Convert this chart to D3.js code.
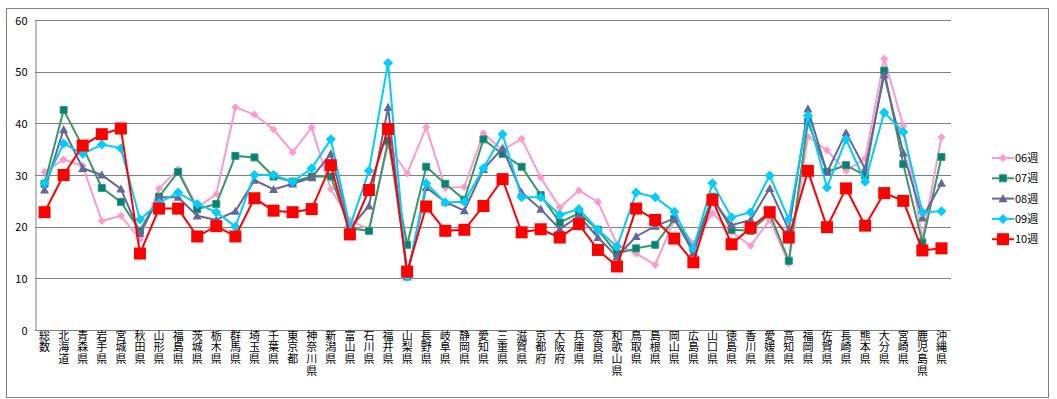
<!DOCTYPE html>
<html>
<head>
<meta charset="utf-8">
<script src="https://d3js.org/d3.v7.min.js"></script>
<style>
  body { margin: 0; background: #fff; }
  svg text { font-family: "MS PGothic", "Noto Sans CJK JP", sans-serif; fill: #000; }
</style>
</head>
<body>
<div id="chart"></div>
<script>
// categories (prefectures)
const prefs = ["総数","北海道","青森県","岩手県","宮城県","秋田県","山形県","福島県","茨城県","栃木県",
  "群馬県","埼玉県","千葉県","東京都","神奈川県","新潟県","富山県","石川県","福井県","山梨県",
  "長野県","岐阜県","静岡県","愛知県","三重県","滋賀県","京都府","大阪府","兵庫県","奈良県",
  "和歌山県","鳥取県","島根県","岡山県","広島県","山口県","徳島県","香川県","愛媛県","高知県",
  "福岡県","佐賀県","長崎県","熊本県","大分県","宮崎県","鹿児島県","沖縄県"];

const week06 = [30.6,33.0,31.8,21.1,22.1,17.6,27.4,31.1,23.7,26.3,
  43.1,41.7,38.8,34.4,39.2,27.3,21.2,19.5,35.8,30.3,
  39.2,27.5,27.7,38.1,34.8,37.0,29.5,23.7,27.0,24.8,
  16.5,14.8,12.6,21.3,16.8,22.6,19.0,16.3,21.3,12.9,
  37.4,34.8,30.8,33.2,52.5,39.5,17.7,37.3];
const week07 = [28.3,42.6,35.5,27.5,24.8,19.2,25.8,30.6,23.4,24.4,
  33.7,33.4,29.7,28.7,29.7,29.7,19.7,19.2,36.6,16.5,
  31.6,28.3,25.2,36.9,34.1,31.6,26.1,20.8,22.6,19.4,
  14.8,15.8,16.5,21.5,15.8,25.8,19.4,19.2,22.5,13.4,
  40.3,30.6,31.9,29.9,50.2,32.1,16.9,33.5];
const week08 = [27.1,38.8,31.3,30.0,27.3,18.7,25.7,25.7,22.1,21.3,
  23.0,29.0,27.2,28.3,29.5,34.1,19.7,24.0,43.1,10.3,
  27.6,24.8,23.1,31.1,35.2,26.6,23.4,19.5,22.1,17.9,
  14.2,18.1,20.1,21.6,15.0,25.2,20.3,21.3,27.4,19.4,
  42.8,30.5,38.2,31.2,49.4,34.3,21.7,28.4];
const week09 = [28.4,36.1,34.1,35.9,35.2,21.4,24.6,26.6,24.4,22.8,
  20.0,30.0,30.0,28.7,31.3,36.9,20.0,30.8,51.7,10.3,
  28.4,24.7,24.8,31.3,37.9,25.7,25.7,22.3,23.4,19.4,
  16.1,26.6,25.7,22.9,15.8,28.4,21.8,22.8,29.9,21.4,
  41.5,27.6,36.9,28.7,42.1,38.3,22.8,23.0];
const week10 = [22.8,30.0,35.7,37.9,39.0,14.8,23.5,23.5,18.1,20.1,
  18.1,25.5,23.1,22.8,23.4,31.9,18.5,27.1,38.9,11.3,
  23.9,19.2,19.4,24.0,29.2,18.9,19.5,17.9,20.5,15.5,
  12.3,23.5,21.3,17.7,13.1,25.2,16.6,19.8,22.8,17.9,
  30.8,19.9,27.4,20.2,26.5,25.0,15.4,15.8];

const seriesNames = ["06週","07週","08週","09週","10週"];
const yTicks = [0,10,20,30,40,50,60];

const series = [
  {name: seriesNames[0], values: week06, line: "#FF99CC", fill: "#FF99CC", shape: "diamond", size: 8},
  {name: seriesNames[1], values: week07, line: "#339966", fill: "#008080", shape: "square", size: 7},
  {name: seriesNames[2], values: week08, line: "#666699", fill: "#666699", shape: "triangle", size: 9},
  {name: seriesNames[3], values: week09, line: "#00CCFF", fill: "#00CCFF", shape: "diamond", size: 10},
  {name: seriesNames[4], values: week10, line: "#FF0000", fill: "#FF0000", shape: "square", size: 12}
];

const W = 1057, H = 399;
const plot = {left: 35, right: 951, top: 20, bottom: 330};

const svg = d3.select("#chart").append("svg")
  .attr("width", W).attr("height", H);

// outer frame
svg.append("rect")
  .attr("x", 6.5).attr("y", 8.5).attr("width", 1042).attr("height", 389)
  .attr("fill", "none").attr("stroke", "#808080");

const x = d3.scaleBand().domain(prefs).range([plot.left, plot.right]);
const y = d3.scaleLinear().domain([0, 60]).range([plot.bottom, plot.top]);

// gridlines
svg.append("g").selectAll("line")
  .data(yTicks.filter(d => d > 0))
  .enter().append("line")
  .attr("x1", plot.left).attr("x2", plot.right)
  .attr("y1", d => Math.round(y(d)) + 0.5).attr("y2", d => Math.round(y(d)) + 0.5)
  .attr("stroke", "#808080");

// y axis
const yAxis = svg.append("g")
  .attr("transform", "translate(" + (plot.left + 0.5) + ",0.5)")
  .call(d3.axisLeft(y).tickValues(yTicks).tickSize(0).tickPadding(8));
yAxis.select(".domain").attr("stroke", "#808080");
yAxis.selectAll("text").attr("font-size", "11px")
  .style("font-family", "'MS PGothic', 'Noto Sans CJK JP', sans-serif");

// x axis line
svg.append("line")
  .attr("x1", plot.left).attr("x2", plot.right)
  .attr("y1", plot.bottom + 0.5).attr("y2", plot.bottom + 0.5)
  .attr("stroke", "#808080");

// vertical category labels (one text each, written top to bottom)
svg.append("g").selectAll("text")
  .data(prefs).enter().append("text")
  .attr("x", d => x(d) + x.bandwidth() / 2)
  .attr("y", 330)
  .style("writing-mode", "vertical-rl")
  .style("text-orientation", "upright")
  .attr("letter-spacing", "0.7px")
  .attr("font-size", "11px")
  .text(d => d);

function markerPath(shape, size) {
  const s = size / 2;
  if (shape === "diamond") return `M0,${-s}L${s},0L0,${s}L${-s},0Z`;
  if (shape === "triangle") return `M0,${-s}L${s},${s * 0.8}L${-s},${s * 0.8}Z`;
  return `M${-s},${-s}H${s}V${s}H${-s}Z`;
}

const cx = i => x(prefs[i]) + x.bandwidth() / 2;
const line = d3.line().x((d, i) => cx(i)).y(d => y(d));

series.forEach(s => {
  const g = svg.append("g");
  g.append("path")
    .attr("d", line(s.values))
    .attr("fill", "none")
    .attr("stroke", s.line)
    .attr("stroke-width", 2);
  g.selectAll("path.m")
    .data(s.values).enter().append("path")
    .attr("class", "m")
    .attr("transform", (d, i) => "translate(" + cx(i) + "," + y(d) + ")")
    .attr("d", markerPath(s.shape, s.size))
    .attr("fill", s.fill)
    .attr("stroke", s.shape === "square" && s.size < 10 ? s.line : "none")
    .attr("stroke-width", 1);
});

// legend
const leg = svg.append("g").selectAll("g")
  .data(series).enter().append("g")
  .attr("transform", (d, i) => "translate(992," + (158 + i * 20.3) + ")");
leg.append("line")
  .attr("x1", 0).attr("x2", 22).attr("y1", 0).attr("y2", 0)
  .attr("stroke", d => d.line).attr("stroke-width", 2);
leg.append("path")
  .attr("transform", "translate(11,0)")
  .attr("d", d => markerPath(d.shape, d.size))
  .attr("fill", d => d.fill)
  .attr("stroke", d => d.shape === "square" && d.size < 10 ? d.line : "none");
leg.append("text")
  .attr("x", 23).attr("y", 4)
  .attr("font-size", "11px")
  .text(d => d.name);
</script>
</body>
</html>
